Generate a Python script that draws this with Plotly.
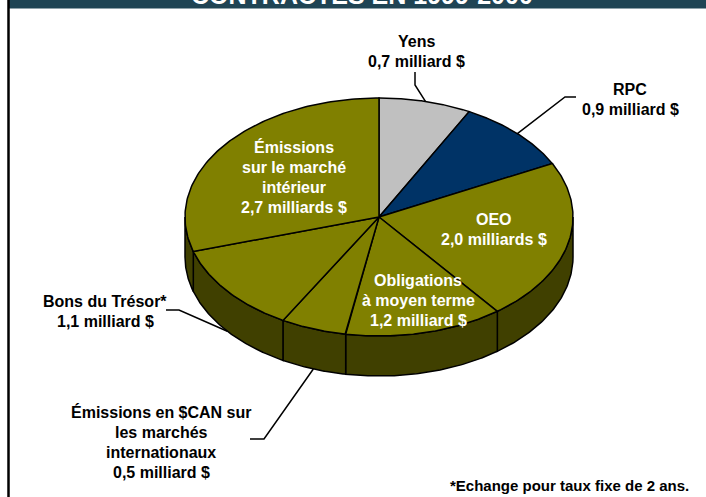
import numpy as np
import plotly.graph_objects as go

# ---------------- data ----------------
categories = ["Yens", "RPC", "OEO", "Obligations à moyen terme",
              "Émissions en $CAN sur les marchés internationaux",
              "Bons du Trésor*", "Émissions sur le marché intérieur"]
values = [0.7, 0.9, 2.0, 1.2, 0.5, 1.1, 2.7]   # milliards $
value_labels = ["0,7 milliard $", "0,9 milliard $", "2,0 milliards $",
                "1,2 milliard $", "0,5 milliard $", "1,1 milliard $",
                "2,7 milliards $"]
label_lines = [["Yens"], ["RPC"], ["OEO"], ["Obligations", "à moyen terme"],
               ["Émissions en $CAN sur", "les marchés", "internationaux"],
               ["Bons du Trésor*"], ["Émissions", "sur le marché", "intérieur"]]
title_text = "CONTRACTÉS EN 1999-2000"
footnote = "*Echange pour taux fixe de 2 ans."

# ---------------- style / layout ----------------
W, H = 706, 497
CX, CY, RX, RY, DEPTH = 379, 217, 194, 119, 40
top_colors = ["#C0C0C0", "#003366", "#808000", "#808000", "#808000", "#808000", "#808000"]
side_colors = ["#606060", "#001a33", "#404000", "#404000", "#404000", "#404000", "#404000"]
inside = [False, False, True, True, False, False, True]
text_pos = [(416, 41), (630, 89), (494, 219), (418, 280), (161, 412), (105, 301), (294, 147)]
LINE_H = 20
FONT = "Liberation Sans, Arial, sans-serif"
leaders = {0: {"start": (415, 72), "elbow": (415, 85), "dz": 0},
           1: {"start": (576, 97), "elbow": (565, 97), "dz": 0},
           4: {"start": (250, 439), "elbow": (264, 439), "dz": DEPTH},
           5: {"start": (166, 310), "elbow": (179, 310), "dz": DEPTH}}


def pt(theta_deg, dz=0.0):
    t = np.radians(theta_deg)
    return CX + RX * np.sin(t), CY - RY * np.cos(t) + dz


total = sum(values)
angles = np.concatenate([[0], np.cumsum(values) / total * 360])

fig = go.Figure()

# side faces (visible front half: 90..270 deg)
for i in range(len(values)):
    a0, a1 = angles[i], angles[i + 1]
    s, e = max(a0, 90), min(a1, 270)
    if e <= s:
        continue
    th = np.linspace(s, e, 80)
    xt, yt = pt(th)
    xb, yb = pt(th[::-1], DEPTH)
    xs = np.concatenate([xt, xb, xt[:1]])
    ys = np.concatenate([yt, yb, yt[:1]])
    fig.add_trace(go.Scatter(x=xs, y=ys, mode="lines", fill="toself",
                             fillcolor=side_colors[i],
                             line=dict(color="black", width=1.5),
                             hoverinfo="skip", showlegend=False))

# top faces
for i in range(len(values)):
    a0, a1 = angles[i], angles[i + 1]
    th = np.linspace(a0, a1, 120)
    xa, ya = pt(th)
    xs = np.concatenate([[CX], xa, [CX]])
    ys = np.concatenate([[CY], ya, [CY]])
    fig.add_trace(go.Scatter(x=xs, y=ys, mode="lines", fill="toself",
                             fillcolor=top_colors[i],
                             line=dict(color="black", width=1.5),
                             hoverinfo="skip", showlegend=False))

# leader lines
for i, ld in leaders.items():
    mid = (angles[i] + angles[i + 1]) / 2
    ex, ey = pt(mid, ld["dz"])
    fig.add_trace(go.Scatter(x=[ld["start"][0], ld["elbow"][0], ex],
                             y=[ld["start"][1], ld["elbow"][1], ey],
                             mode="lines", line=dict(color="black", width=1.5),
                             hoverinfo="skip", showlegend=False))

# labels
for i in range(len(values)):
    lines = label_lines[i] + [value_labels[i]]
    x0, y0 = text_pos[i]
    col = "white" if inside[i] else "black"
    for k, ln in enumerate(lines):
        fig.add_annotation(x=x0, y=y0 + k * LINE_H, xref="x", yref="y",
                           text=ln, showarrow=False, xanchor="center", yanchor="middle",
                           font=dict(family=FONT, size=16, color=col, weight="bold"))

# title (cut off at the top) and footnote
fig.add_annotation(x=362 / W, y=1 + 5 / H, xref="paper", yref="paper", text=title_text,
                   showarrow=False, xanchor="center", yanchor="middle",
                   font=dict(family=FONT, size=25, color="white", weight="bold"))
fig.add_annotation(x=569, y=485, xref="x", yref="y", text=footnote, showarrow=False,
                   xanchor="center", yanchor="middle",
                   font=dict(family=FONT, size=15, color="black", weight="bold"))

fig.update_layout(
    width=W, height=H, margin=dict(l=0, r=0, t=0, b=0),
    paper_bgcolor="white", plot_bgcolor="white",
    xaxis=dict(range=[0, W], visible=False, fixedrange=True),
    yaxis=dict(range=[H, 0], visible=False, fixedrange=True),
    shapes=[
        dict(type="rect", xref="x", yref="y", x0=9, x1=W, y0=-5, y1=8.5,
             fillcolor="#1F4454", line=dict(width=0), layer="below"),
        dict(type="line", xref="x", yref="y", x0=8.5, x1=8.5, y0=0, y1=H,
             line=dict(color="black", width=2.5)),
    ],
)

fig.write_html("out.html", config={"displayModeBar": False},
               post_script="document.body.style.margin='0px';document.body.style.overflow='hidden';")
